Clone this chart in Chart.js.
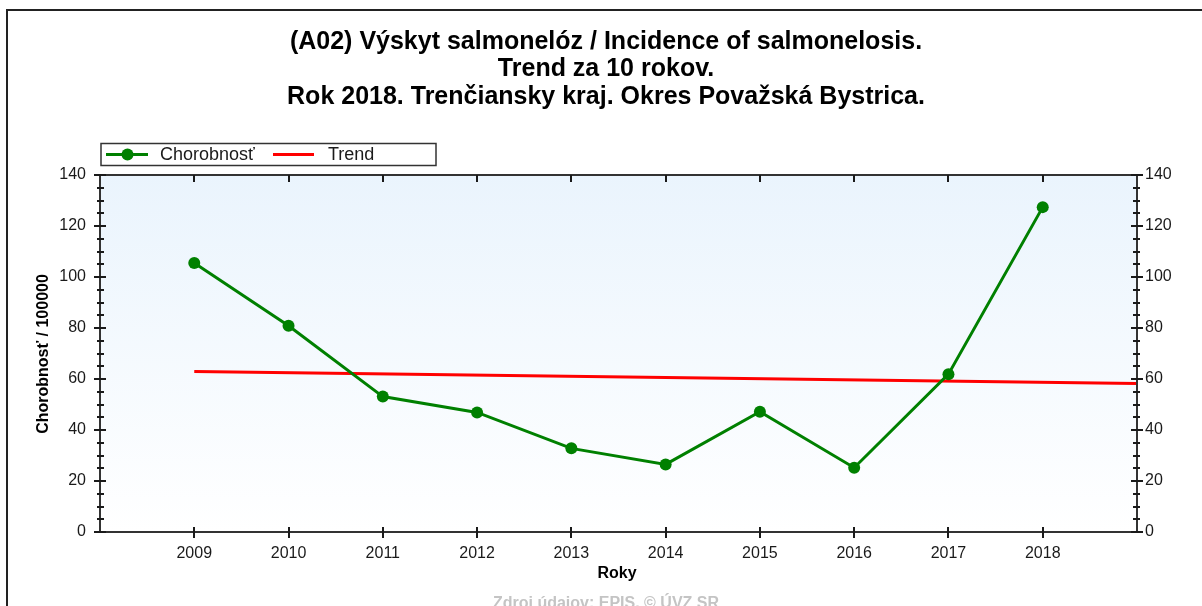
<!DOCTYPE html>
<html>
<head>
<meta charset="utf-8">
<script src="https://cdn.jsdelivr.net/npm/chart.js@4"></script>
<style>
  html, body { margin: 0; padding: 0; background: #fff; }
  #wrap { width: 1202px; height: 606px; }
</style>
</head>
<body>
<div id="wrap"><canvas id="chart" width="1202" height="606"></canvas></div>
<script>
// data
const years = [2009, 2010, 2011, 2012, 2013, 2014, 2015, 2016, 2017, 2018];
const incidence = [105.5, 80.9, 53.1, 46.9, 32.8, 26.5, 47.2, 25.2, 61.9, 127.4];
const trendYears = [2009, 2019];
const trendValues = [62.9, 58.2];
const yTicks = [0, 20, 40, 60, 80, 100, 120, 140];

const titleLines = [
    '(A02) Výskyt salmonelóz / Incidence of salmonelosis.',
    'Trend za 10 rokov.',
    'Rok 2018. Trenčiansky kraj. Okres Považská Bystrica.'
];
const seriesNames = ['Chorobnosť', 'Trend'];

const FONT = "'Liberation Sans', Arial, sans-serif";
const green = '#008000';
const red = '#ff0000';
const ink = '#1a1a1a';

const decor = {
    id: 'decor',
    beforeDraw(chart) {
        const ctx = chart.ctx;
        const a = chart.chartArea;
        ctx.save();
        ctx.fillStyle = '#fff';
        ctx.fillRect(0, 0, chart.width, chart.height);
        const g = ctx.createLinearGradient(0, a.top, 0, a.bottom);
        g.addColorStop(0, '#eaf4fd');
        g.addColorStop(1, '#ffffff');
        ctx.fillStyle = g;
        ctx.fillRect(a.left, a.top, a.right - a.left, a.bottom - a.top);
        ctx.restore();
    },
    afterDraw(chart) {
        const ctx = chart.ctx;
        const a = chart.chartArea;
        const x = chart.scales.x;
        const y = chart.scales.y;
        ctx.save();

        // outer frame
        ctx.strokeStyle = '#222';
        ctx.lineWidth = 2;
        ctx.beginPath();
        ctx.moveTo(7, 606);
        ctx.lineTo(7, 10);
        ctx.lineTo(1202, 10);
        ctx.stroke();

        // plot frame
        ctx.strokeStyle = '#333';
        ctx.lineWidth = 2;
        ctx.strokeRect(a.left, a.top, a.right - a.left, a.bottom - a.top);

        // x ticks: top inward, bottom crossing
        ctx.strokeStyle = ink;
        ctx.lineWidth = 2;
        ctx.beginPath();
        years.forEach(v => {
            const px = Math.round(x.getPixelForValue(v));
            ctx.moveTo(px, a.top);
            ctx.lineTo(px, a.top + 7);
            ctx.moveTo(px, a.bottom - 5);
            ctx.lineTo(px, a.bottom + 6);
        });
        ctx.stroke();

        // y ticks both sides, major every 20, minor every 5
        ctx.beginPath();
        for (let v = 0; v <= 140; v += 5) {
            const py = Math.round(y.getPixelForValue(v));
            const major = v % 20 === 0;
            const o = major ? 6 : 3;
            const i = major ? 6 : 4;
            ctx.moveTo(a.left - o, py);
            ctx.lineTo(a.left + i, py);
            ctx.moveTo(a.right - i, py);
            ctx.lineTo(a.right + o, py);
        }
        ctx.stroke();

        // title
        ctx.fillStyle = '#000';
        ctx.textAlign = 'center';
        ctx.textBaseline = 'middle';
        ctx.font = 'bold 25px ' + FONT;
        titleLines.forEach((t, k) => ctx.fillText(t, 606, 42 + k * 27.5));

        // legend
        ctx.fillStyle = '#fff';
        ctx.fillRect(101, 143.5, 335, 22);
        ctx.strokeStyle = '#333';
        ctx.lineWidth = 1.5;
        ctx.strokeRect(101, 143.5, 335, 22);
        ctx.lineWidth = 3;
        ctx.strokeStyle = green;
        ctx.beginPath();
        ctx.moveTo(106, 154.5);
        ctx.lineTo(148, 154.5);
        ctx.stroke();
        ctx.fillStyle = green;
        ctx.beginPath();
        ctx.arc(127.5, 154.5, 6, 0, Math.PI * 2);
        ctx.fill();
        ctx.strokeStyle = red;
        ctx.beginPath();
        ctx.moveTo(273, 154.5);
        ctx.lineTo(314, 154.5);
        ctx.stroke();
        ctx.fillStyle = ink;
        ctx.textAlign = 'left';
        ctx.font = '18px ' + FONT;
        ctx.fillText(seriesNames[0], 160, 155);
        ctx.fillText(seriesNames[1], 328, 155);

        // axis titles
        ctx.font = 'bold 16px ' + FONT;
        ctx.textAlign = 'center';
        ctx.fillStyle = '#000';
        ctx.fillText('Roky', 617, 574);
        ctx.save();
        ctx.translate(44, 354);
        ctx.rotate(-Math.PI / 2);
        ctx.fillText('Chorobnosť / 100000', 0, 0);
        ctx.restore();

        // source note
        ctx.fillStyle = '#c4c4c4';
        ctx.textBaseline = 'alphabetic';
        ctx.fillText('Zdroj údajov: EPIS. © ÚVZ SR', 606, 608);

        ctx.restore();
    }
};

new Chart(document.getElementById('chart'), {
    type: 'line',
    data: {
        datasets: [
            {
                label: seriesNames[1],
                data: trendYears.map((v, i) => ({ x: v, y: trendValues[i] })),
                borderColor: red,
                borderWidth: 3,
                pointRadius: 0,
                order: 2
            },
            {
                label: seriesNames[0],
                data: years.map((v, i) => ({ x: v, y: incidence[i] })),
                borderColor: green,
                backgroundColor: green,
                borderWidth: 3,
                pointRadius: 6,
                pointBorderWidth: 0,
                pointBackgroundColor: green,
                order: 1
            }
        ]
    },
    options: {
        responsive: false,
        animation: false,
        layout: { padding: { top: 175, left: 0, right: 0, bottom: 0 } },
        plugins: {
            legend: { display: false },
            title: { display: false },
            tooltip: { enabled: false }
        },
        scales: {
            x: {
                type: 'linear',
                min: 2008,
                max: 2019,
                grid: { display: false, drawTicks: false },
                border: { display: false },
                afterBuildTicks: s => { s.ticks = years.map(v => ({ value: v })); },
                afterFit: s => { s.height = 74; },
                ticks: {
                    autoSkip: false,
                    maxRotation: 0,
                    padding: 12,
                    color: ink,
                    font: { family: FONT, size: 16 },
                    callback: v => String(v)
                }
            },
            y: {
                position: 'left',
                min: 0,
                max: 140,
                grid: { display: false, drawTicks: false },
                border: { display: false },
                afterBuildTicks: s => { s.ticks = yTicks.map(v => ({ value: v })); },
                afterFit: s => { s.width = 100; },
                ticks: { padding: 14, color: ink, font: { family: FONT, size: 16 } }
            },
            y2: {
                position: 'right',
                min: 0,
                max: 140,
                grid: { display: false, drawTicks: false },
                border: { display: false },
                afterBuildTicks: s => { s.ticks = yTicks.map(v => ({ value: v })); },
                afterFit: s => { s.width = 65; },
                ticks: { padding: 8, color: ink, font: { family: FONT, size: 16 } }
            }
        }
    },
    plugins: [decor]
});
</script>
</body>
</html>
